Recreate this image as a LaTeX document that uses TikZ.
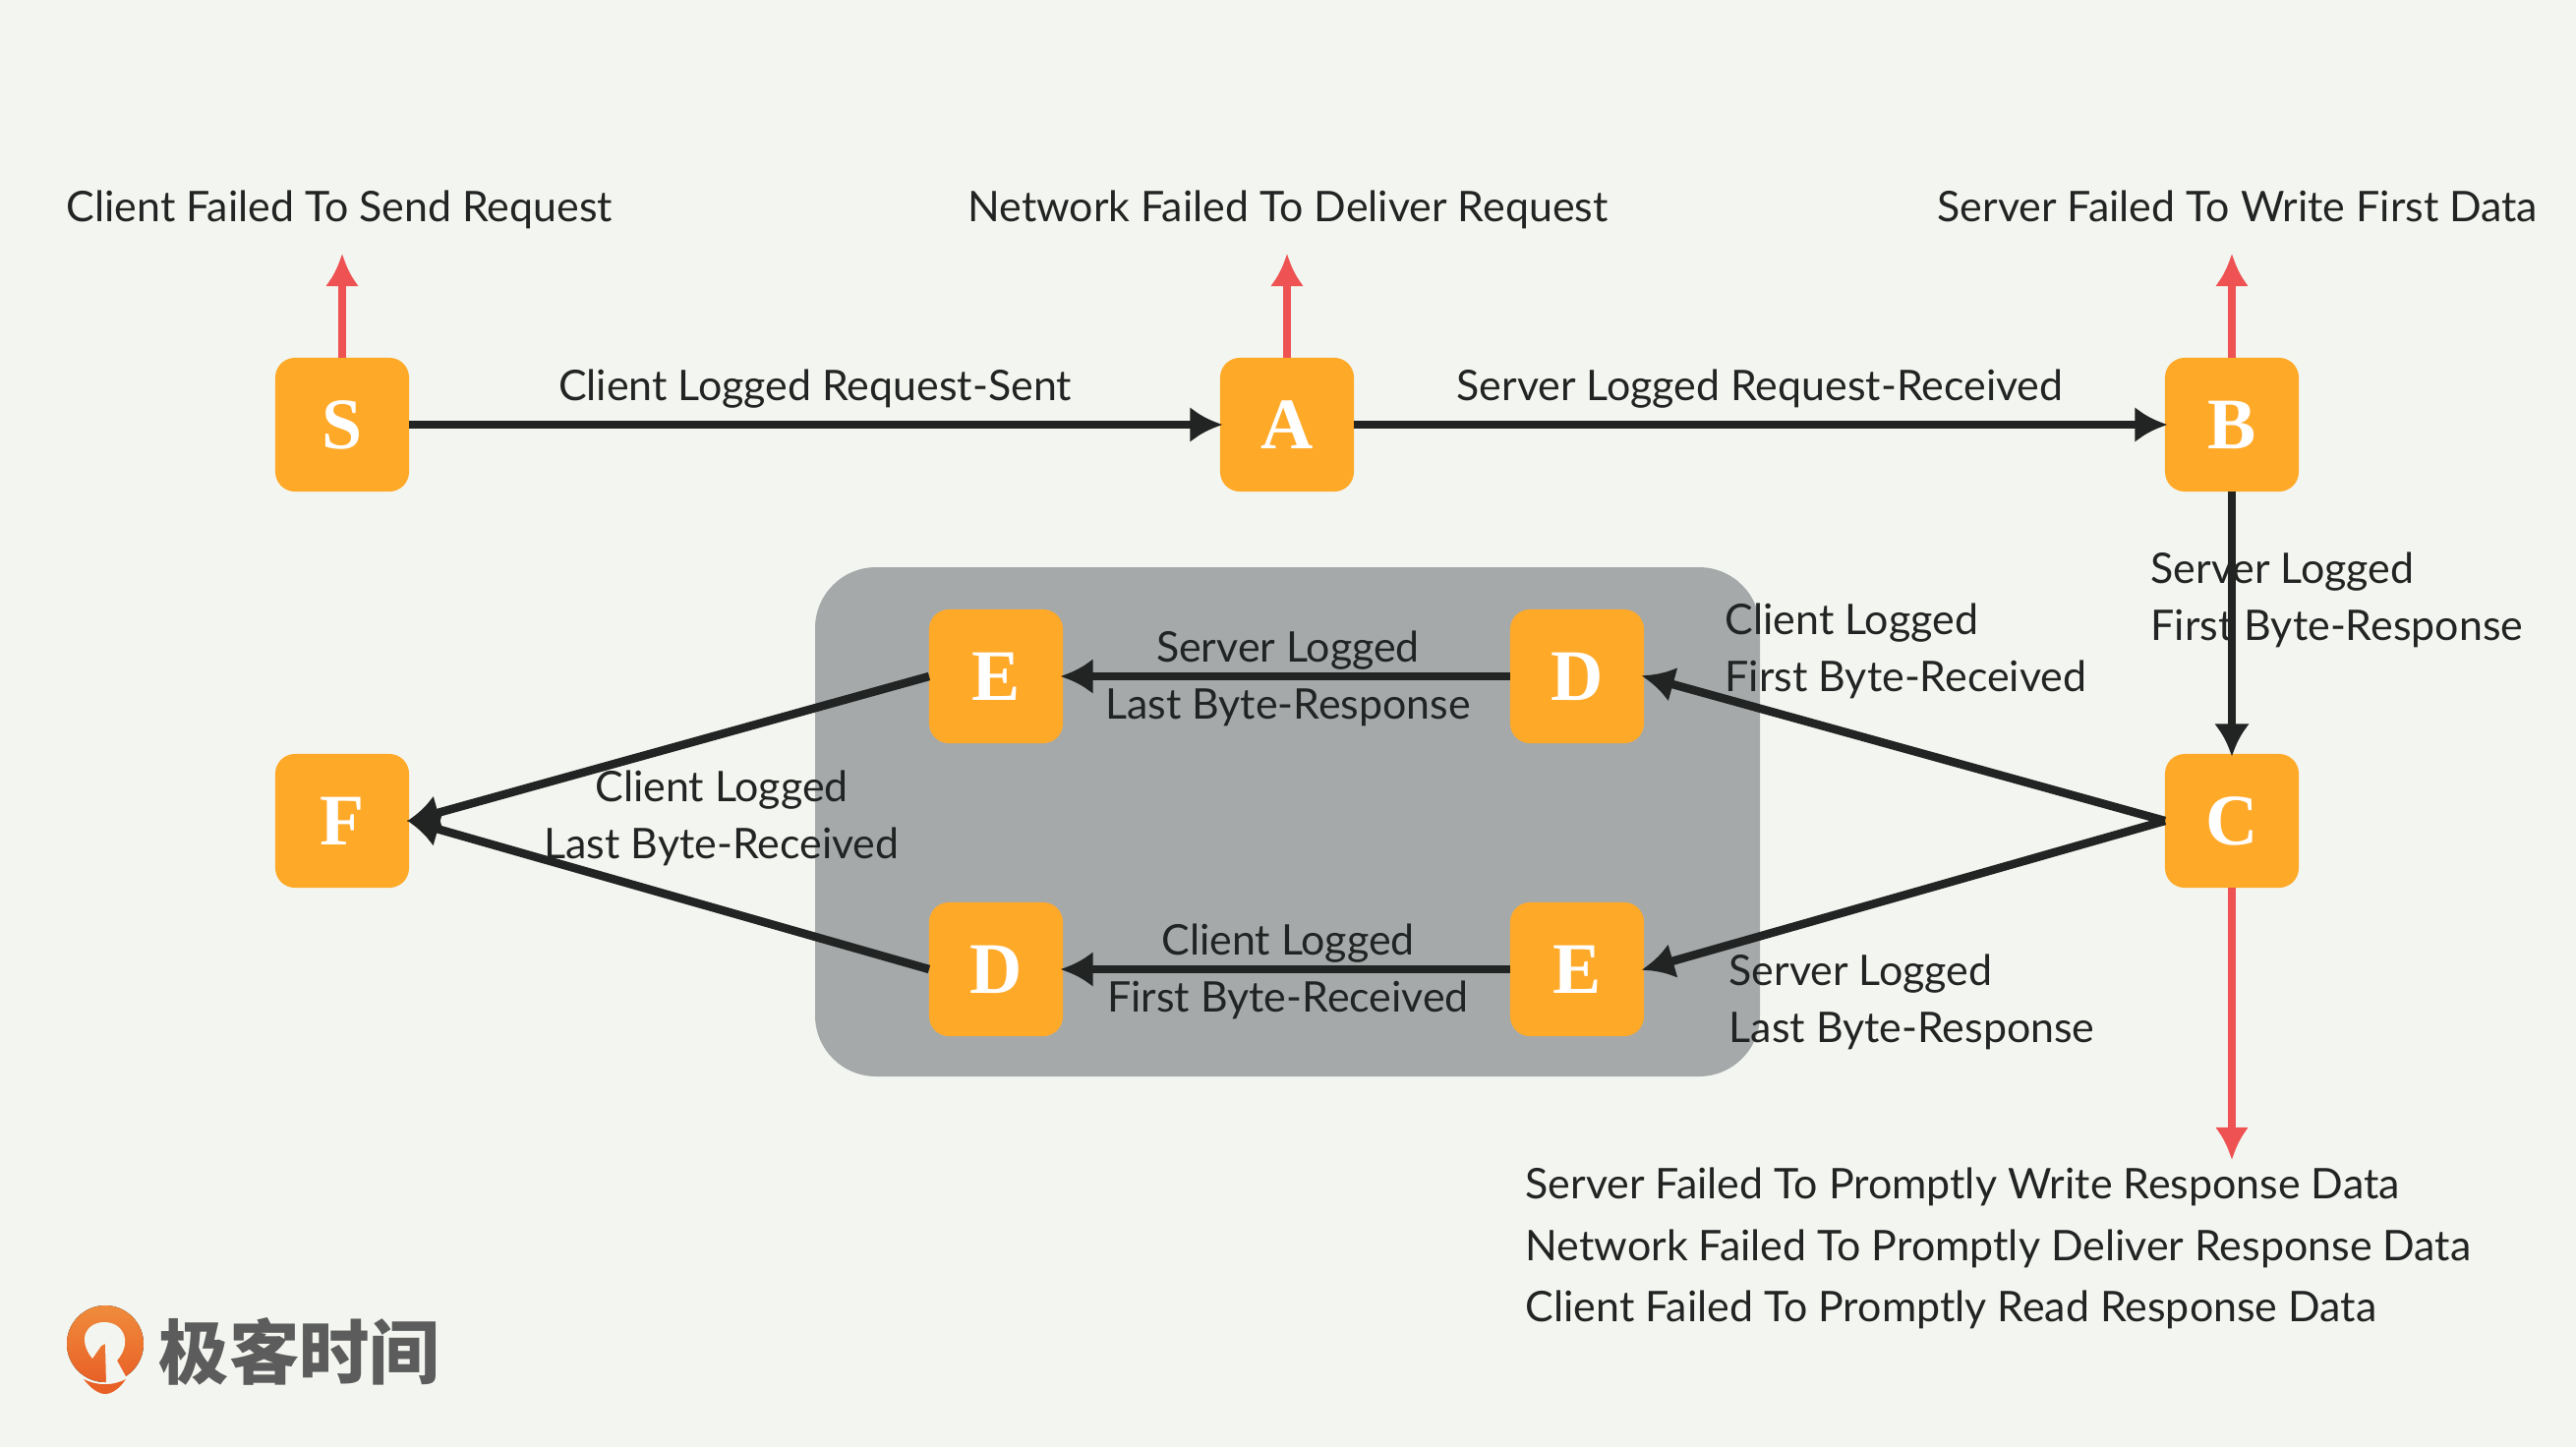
\documentclass[tikz,border=0pt]{standalone}
\usepackage{fontspec}
\usepackage{xcolor}
\usepackage{tikz}
\usetikzlibrary{arrows.meta}
\setsansfont{Lato}
\newfontfamily\boxfont{Liberation Serif}
\newfontfamily\cjkfont{Noto Sans CJK SC}
\definecolor{lgbg}{RGB}{243,246,240}
\definecolor{lgbox}{RGB}{255,169,41}
\definecolor{lgpanel}{RGB}{165,169,170}
\definecolor{lgedge}{RGB}{34,36,35}
\definecolor{lgfail}{RGB}{238,82,83}
\definecolor{lglogo}{RGB}{92,92,92}
\definecolor{lgorangeA}{RGB}{240,140,60}
\definecolor{lgorangeB}{RGB}{232,96,38}
\tikzset{
  lgstate/.style={
    fill=lgbox, rounded corners=0.2cm, inner sep=0pt, outer sep=0pt, minimum size=1.36cm,
    text=white, font=\fontsize{21}{21}\selectfont\boxfont\bfseries
  },
  arr/.style={-{Latex[length=0.33cm,width=0.36cm]}, draw=lgedge, line width=0.085cm, shorten >=-0.025cm},
  failarr/.style={-{Latex[length=0.33cm,width=0.34cm]}, draw=lgfail, line width=0.08cm},
  anno/.style={
    font=\fontsize{12.2}{16.45}\selectfont\sffamily, text=lgedge, inner sep=0pt
  },
  annol/.style={anno, align=left, anchor=west},
  annoc/.style={anno, align=center},
  annob/.style={
    anno, align=left, anchor=west, font=\fontsize{12.2}{17.85}\selectfont\sffamily
  },
  oneline/.style={text height=9pt, text depth=2.5pt}
}
\begin{document}
\begin{tikzpicture}[x=0.01cm,y=-0.01cm]
  \fill[lgbg] (0,0) rectangle (2620,1472);
  \useasboundingbox (0,0) rectangle (2620,1472);
  \fill[lgpanel, rounded corners=0.62cm] (829,577) rectangle (1790,1095);
  % states
  \node[lgstate] (s) at (348,432) {S};
  \node[lgstate] (a) at (1309,432) {A};
  \node[lgstate] (b) at (2270,432) {B};
  \node[lgstate] (c) at (2270,835) {C};
  \node[lgstate] (f) at (348,835) {F};
  \node[lgstate] (e1) at (1013,688) {E};
  \node[lgstate] (d1) at (1604,688) {D};
  \node[lgstate] (d2) at (1013,986) {D};
  \node[lgstate] (e2) at (1604,986) {E};
  \coordinate (sfail) at (348,258);
  \coordinate (afail) at (1309,258);
  \coordinate (bfail) at (2270,258);
  \coordinate (cfail) at (2270,1180);
  % normal path
  \draw[arr] (s) -- (a);
  \draw[arr] (a) -- (b);
  \draw[arr] (b) -- (c);
  \draw[arr] (c.west) -- (d1.east);
  \draw[arr] (c.west) -- (e2.east);
  \draw[arr] (d1) -- (e1);
  \draw[arr] (e2) -- (d2);
  \draw[arr] (e1.west) -- (f.east);
  \draw[arr] (d2.west) -- (f.east);
  % failures
  \draw[failarr] (s) -- (sfail);
  \draw[failarr] (a) -- (afail);
  \draw[failarr] (b) -- (bfail);
  \draw[failarr] (c) -- (cfail);
  % labels
  \node[annol, oneline] (sfailtxt) at (67,214) {Client Failed To Send Request};
  \node[annoc, oneline] (afailtxt) at (1310,214) {Network Failed To Deliver Request};
  \node[annol, oneline] (bfailtxt) at (1970,214) {Server Failed To Write First Data};
  \node[annoc, oneline] (satxt) at (829,396) {Client Logged Request-Sent};
  \node[annoc, oneline] (abtxt) at (1790,396) {Server Logged Request-Received};
  \node[annol] (bctxt) at (2187,610) {Server Logged\\First Byte-Response};
  \node[annol] (cdtxt) at (1754,662) {Client Logged\\First Byte-Received};
  \node[annoc] (detxt) at (1310,690) {Server Logged\\Last Byte-Response};
  \node[annoc] (edtxt) at (1310,988) {Client Logged\\First Byte-Received};
  \node[annoc] (ftxt) at (734,832) {Client Logged\\Last Byte-Received};
  \node[annol] (cetxt) at (1758,1019) {Server Logged\\Last Byte-Response};
  \node[annob] (cfailtxt) at (1551,1270) {Server Failed To Promptly Write Response Data\\Network Failed To Promptly Deliver Response Data\\Client Failed To Promptly Read Response Data};
  % logo
  \fill[top color=lgorangeA, bottom color=lgorangeB] (107,1367) circle (39);
  \fill[lgbg] (94,1382) .. controls (78,1362) and (88,1345) .. (106,1345)
    .. controls (126,1345) and (135,1366) .. (119,1384)
    -- (129,1402) -- (108,1408) -- (107,1367) -- (103,1369) -- cycle;
  \fill[lgorangeB] (85,1403) .. controls (100,1410) and (114,1410) .. (128,1403)
    .. controls (122,1412) and (114,1418) .. (107,1418)
    .. controls (100,1418) and (92,1412) .. (85,1403) -- cycle;
  \node[inner sep=0pt, anchor=west, text=lglogo, font=\fontsize{20.3}{20.3}\selectfont\cjkfont\bfseries] (logotxt) at (161,1375) {极客时间};
\end{tikzpicture}
\end{document}
